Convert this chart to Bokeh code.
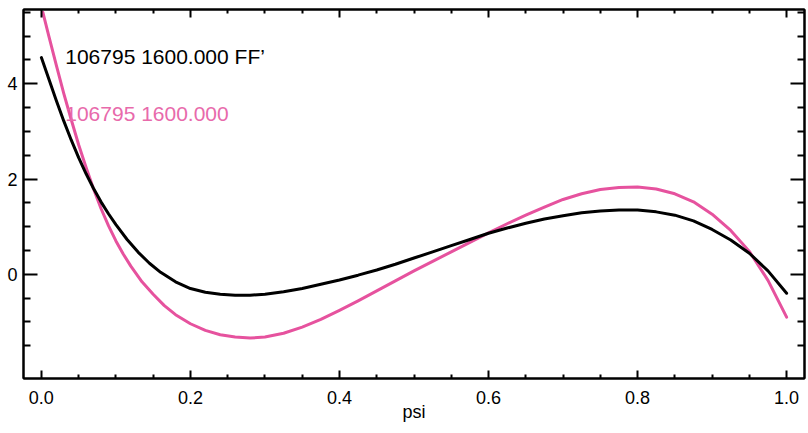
from bokeh.plotting import figure
from bokeh.models import Range1d, LinearAxis, FixedTicker, Label, CustomLabelingPolicy
from bokeh.embed import file_html
from bokeh.resources import INLINE

# ---- data ----
psi_ff = [0.000, 0.010, 0.020, 0.030, 0.040, 0.050, 0.060, 0.070, 0.080, 0.090,
          0.100, 0.115, 0.130, 0.145, 0.160, 0.180, 0.200, 0.220, 0.240, 0.260,
          0.280, 0.300, 0.325, 0.350, 0.375, 0.400, 0.425, 0.450, 0.475, 0.500,
          0.525, 0.550, 0.575, 0.600, 0.625, 0.650, 0.675, 0.700, 0.725, 0.750,
          0.775, 0.800, 0.825, 0.850, 0.875, 0.900, 0.925, 0.950, 0.975, 1.000]
val_ff = [4.55, 4.10, 3.65, 3.22, 2.82, 2.45, 2.11, 1.80, 1.52, 1.27,
          1.04, 0.73, 0.46, 0.23, 0.04, -0.16, -0.30, -0.38, -0.42, -0.44,
          -0.44, -0.42, -0.37, -0.30, -0.21, -0.12, -0.02, 0.09, 0.21, 0.34,
          0.47, 0.60, 0.73, 0.86, 0.97, 1.07, 1.16, 1.23, 1.29, 1.33,
          1.35, 1.35, 1.31, 1.24, 1.12, 0.94, 0.72, 0.44, 0.07, -0.40]

psi_pk = [0.002, 0.010, 0.020, 0.030, 0.040, 0.050, 0.060, 0.070, 0.080, 0.090,
          0.100, 0.110, 0.120, 0.135, 0.150, 0.165, 0.180, 0.200, 0.220, 0.240,
          0.260, 0.280, 0.300, 0.325, 0.350, 0.375, 0.400, 0.425, 0.450, 0.475,
          0.500, 0.525, 0.550, 0.575, 0.600, 0.625, 0.650, 0.675, 0.700, 0.725,
          0.750, 0.775, 0.800, 0.825, 0.850, 0.875, 0.900, 0.925, 0.950, 0.975,
          1.000]
val_pk = [5.50, 5.00, 4.39, 3.80, 3.25, 2.72, 2.24, 1.79, 1.38, 1.02,
          0.70, 0.42, 0.17, -0.16, -0.42, -0.66, -0.85, -1.04, -1.18, -1.27,
          -1.32, -1.34, -1.32, -1.24, -1.11, -0.95, -0.76, -0.56, -0.35, -0.14,
          0.07, 0.27, 0.47, 0.67, 0.87, 1.06, 1.24, 1.41, 1.57, 1.69,
          1.78, 1.82, 1.83, 1.79, 1.69, 1.52, 1.26, 0.92, 0.48, -0.13,
          -0.90]

x_ticks = [0.0, 0.2, 0.4, 0.6, 0.8, 1.0]
x_minor = [0.05, 0.10, 0.15, 0.25, 0.30, 0.35, 0.45, 0.50, 0.55,
           0.65, 0.70, 0.75, 0.85, 0.90, 0.95]
y_ticks = [0, 2, 4]
y_minor = [-1.5, -1.0, -0.5, 0.5, 1.0, 1.5, 2.5, 3.0, 3.5, 4.5, 5.0, 5.5]
x_tick_labels = {0.0: "0.0", 0.2: "0.2", 0.4: "0.4", 0.6: "0.6", 0.8: "0.8", 1.0: "1.0"}
y_tick_labels = {0: "0", 2: "2", 4: "4"}
label_ff = "106795 1600.000 FF\u2019"
label_pk = "106795 1600.000"
x_title = "psi"

BLACK = "#000000"
PINK = "#E6529E"
PINK_TEXT = "#E86AAB"
FONT = "Liberation Sans"

p = figure(width=808, height=433, output_backend="svg", toolbar_location=None,
           x_range=Range1d(-0.024, 1.024), y_range=Range1d(-2.19, 5.56),
           min_border_left=23, min_border_right=4, min_border_top=9,
           min_border_bottom=55)
p.xgrid.visible = False
p.ygrid.visible = False
p.outline_line_color = BLACK
p.outline_line_width = 2
p.background_fill_color = "white"
p.border_fill_color = "white"

xt = FixedTicker(ticks=x_ticks, minor_ticks=x_minor)
yt = FixedTicker(ticks=y_ticks, minor_ticks=y_minor)

def hide_labels(ax):
    ax.major_label_policy = CustomLabelingPolicy(
        code="for (const i of indices) { indices.unset(i) } return indices")
    ax.major_label_text_font_size = "1px"
    ax.major_label_standoff = 0

def style_x(ax, labels):
    ax.ticker = xt
    ax.axis_line_width = 2
    ax.major_tick_in = 8
    ax.major_tick_out = 0
    ax.minor_tick_in = 4
    ax.minor_tick_out = 0
    ax.major_tick_line_width = 2
    ax.minor_tick_line_width = 2
    if labels:
        ax.major_label_overrides = x_tick_labels
        ax.major_label_text_font = FONT
        ax.major_label_text_font_size = "18px"
        ax.major_label_text_color = BLACK
        ax.major_label_standoff = 12
    else:
        hide_labels(ax)

def style_y(ax, labels):
    ax.ticker = yt
    ax.axis_line_width = 2
    ax.major_tick_in = 14
    ax.major_tick_out = 0
    ax.minor_tick_in = 7
    ax.minor_tick_out = 0
    ax.major_tick_line_width = 2
    ax.minor_tick_line_width = 2
    if labels:
        ax.major_label_overrides = y_tick_labels
        ax.major_label_text_font = FONT
        ax.major_label_text_font_size = "18px"
        ax.major_label_text_color = BLACK
        ax.major_label_standoff = 6
        ax.major_label_orientation = "horizontal"
    else:
        hide_labels(ax)

style_x(p.xaxis[0], True)
style_y(p.yaxis[0], True)
p.xaxis[0].axis_label = x_title
p.xaxis[0].axis_label_text_font = FONT
p.xaxis[0].axis_label_text_font_size = "18px"
p.xaxis[0].axis_label_text_font_style = "normal"
p.xaxis[0].axis_label_text_color = BLACK
p.xaxis[0].axis_label_standoff = -5

top = LinearAxis()
style_x(top, False)
p.add_layout(top, "above")
right = LinearAxis()
style_y(right, False)
p.add_layout(right, "right")

p.line(psi_pk, val_pk, line_color=PINK, line_width=3, line_join="round", line_cap="round")
p.line(psi_ff, val_ff, line_color=BLACK, line_width=3, line_join="round", line_cap="round")

p.add_layout(Label(x=0.032, y=4.58, text=label_ff, text_color=BLACK,
                   text_font=FONT, text_font_size="21px", text_baseline="middle"))
p.add_layout(Label(x=0.032, y=3.38, text=label_pk, text_color=PINK_TEXT,
                   text_font=FONT, text_font_size="21px", text_baseline="middle"))

open("out.html", "w").write(file_html(p, INLINE))
